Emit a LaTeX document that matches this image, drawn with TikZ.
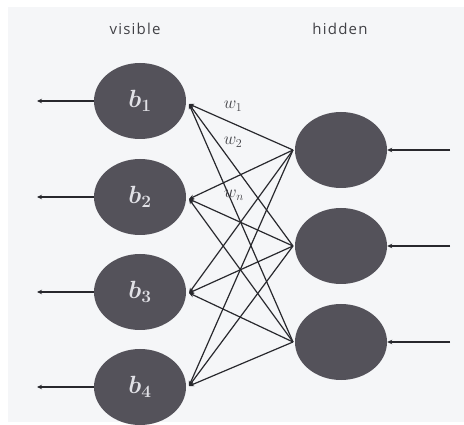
\documentclass[tikz,border=0pt]{standalone}
\usepackage{fontspec}
\usetikzlibrary{shapes.geometric,arrows.meta}
\newfontfamily\lblfont[LetterSpace=8]{Open Sans}
\definecolor{bgc}{RGB}{245,246,248}
\definecolor{nodec}{RGB}{84,82,90}
\definecolor{linec}{RGB}{40,40,45}
\definecolor{txtc}{RGB}{65,65,70}
\definecolor{btxt}{RGB}{225,225,230}
\tikzset{
  unit/.style={ellipse,fill=nodec,draw=none,minimum width=92pt,minimum height=76pt,inner sep=0pt,
    text=btxt,font=\fontsize{25}{25}\selectfont\boldmath},
  conn/.style={draw=linec,line width=1.2pt},
  tipped/.style={conn,-{Stealth[length=5pt,width=4.5pt]}},
  head/.style={font=\lblfont\fontsize{15}{15}\selectfont,text=txtc},
  wlab/.style={font=\fontsize{18}{18}\selectfont,text=txtc,inner sep=0pt}
}
\begin{document}
\begin{tikzpicture}[x=1pt,y=-1pt]
\useasboundingbox (0,0) rectangle (464,425);
\fill[white] (0,0) rectangle (464,425);
\fill[bgc] (8,7) rectangle (464,422);
\node[head] (tv) at (135,29) {visible};
\node[head] (th) at (340,29) {hidden};
% visible units
\node[unit] (v1) at (140,101) {$b_1$};
\node[unit] (v2) at (140,197) {$b_2$};
\node[unit] (v3) at (140,292) {$b_3$};
\node[unit] (v4) at (140,387) {$b_4$};
% hidden units
\node[unit] (h1) at (341,150) {};
\node[unit] (h2) at (341,246) {};
\node[unit] (h3) at (341,342) {};
% connection points
\coordinate (pv1) at (189,104);
\coordinate (pv2) at (189,199);
\coordinate (pv3) at (189,293);
\coordinate (pv4) at (189,386);
\coordinate (ph1) at (293,150);
\coordinate (ph2) at (293,246);
\coordinate (ph3) at (293,342);
% outer arrow ends
\coordinate (lv1) at (37,101);
\coordinate (lv2) at (37,197);
\coordinate (lv3) at (37,292);
\coordinate (lv4) at (37,387);
\coordinate (rh1) at (450,150);
\coordinate (rh2) at (450,246);
\coordinate (rh3) at (450,342);
\foreach \i in {1,...,4}{
  \draw[tipped] (v\i.west) -- (lv\i);
  \foreach \j in {1,2,3}{
    \draw[tipped] (ph\j) -- (pv\i);
  }
}
\foreach \j in {1,2,3}{
  \draw[tipped] (rh\j) -- (h\j.east);
}
\node[wlab] (w1) at (233,106) {$w_1$};
\node[wlab] (w2) at (233,142) {$w_2$};
\node[wlab] (wn) at (234,195) {$w_n$};
\end{tikzpicture}
\end{document}
